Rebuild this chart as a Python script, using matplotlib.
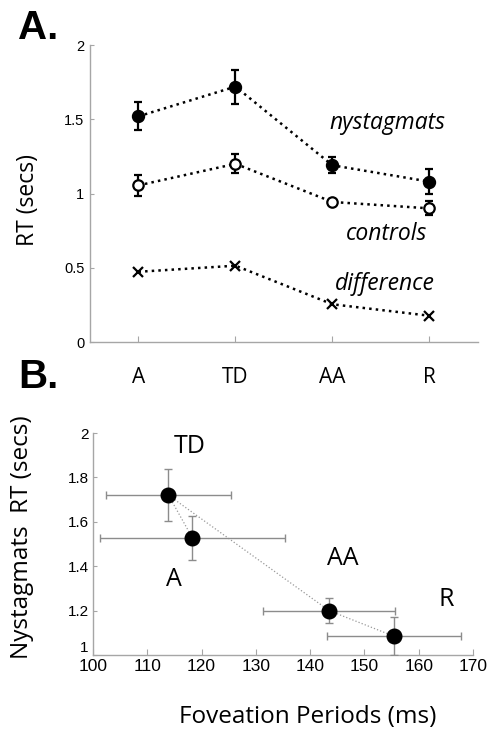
import matplotlib
matplotlib.use("Agg")
import matplotlib.pyplot as plt

# panel A: reaction time per condition
conds = ["A", "TD", "AA", "R"]
nyst_rt = [1.52, 1.72, 1.19, 1.08]
nyst_err = [0.095, 0.115, 0.055, 0.085]
ctrl_rt = [1.055, 1.20, 0.943, 0.90]
ctrl_err = [0.07, 0.065, 0.02, 0.048]
diff_rt = [0.473, 0.514, 0.254, 0.177]

# panel B: nystagmats RT vs foveation period
fov_ms = [118.3, 113.9, 143.5, 155.4]
fov_err = [17.0, 11.5, 12.1, 12.3]
b_rt = [1.528, 1.72, 1.20, 1.085]
b_rt_err = [0.098, 0.118, 0.055, 0.085]
b_lab_x = [114.9, 117.9, 146.0, 165.0]
b_lab_y = [1.34, 1.94, 1.435, 1.25]

spine_col = "#a6a6a6"
sans = ["Open Sans", "DejaVu Sans"]
arial = ["Liberation Sans", "DejaVu Sans"]

fig = plt.figure(figsize=(4.88, 7.30), dpi=100)

# ---- A ----
ax = fig.add_axes([0.1844, 0.5315, 0.795, 0.4068])
xs = list(range(len(conds)))
ax.errorbar(xs, nyst_rt, yerr=nyst_err, fmt="o", color="black", ms=8.6,
            ecolor="black", elinewidth=1.6, capsize=2.8, capthick=1.6, zorder=3)
ax.plot(xs, nyst_rt, ":", color="black", lw=1.8, zorder=2)
ax.errorbar(xs, ctrl_rt, yerr=ctrl_err, fmt="o", color="black", mfc="white",
            mec="black", mew=1.6, ms=7.5, ecolor="black", elinewidth=1.6,
            capsize=2.8, capthick=1.6, zorder=3)
ax.plot(xs, ctrl_rt, ":", color="black", lw=1.8, zorder=2)
ax.plot(xs, diff_rt, ":", color="black", lw=1.8, marker="x", ms=7, mew=1.6, zorder=3)

ax.text(2.57, 1.475, "nystagmats", fontsize=16.5, style="italic", family=sans,
        ha="center", va="center")
ax.text(2.56, 0.73, "controls", fontsize=16.5, style="italic", family=sans,
        ha="center", va="center")
ax.text(2.54, 0.39, "difference", fontsize=16.5, style="italic", family=sans,
        ha="center", va="center")

ax.set_xlim(-0.5, 3.5)
ax.set_ylim(0, 2)
ax.set_xticks(xs)
ax.set_xticklabels(conds, fontsize=15, family=sans)
ax.set_yticks([0, 0.5, 1, 1.5, 2])
ax.set_yticklabels(["0", "0.5", "1", "1.5", "2"], fontsize=10.5, family=arial)
ax.tick_params(axis="x", direction="in", length=4, color=spine_col, pad=18)
ax.tick_params(axis="y", direction="in", length=3, color=spine_col, pad=4)
for s in ["top", "right"]:
    ax.spines[s].set_visible(False)
for s in ["left", "bottom"]:
    ax.spines[s].set_color(spine_col)
    ax.spines[s].set_linewidth(1.0)

fig.text(0.057, 0.726, "RT (secs)", rotation=90, fontsize=16.5, family=sans,
         ha="center", va="center")
fig.text(0.037, 0.961, "A.", fontsize=29, weight="bold", family=arial,
         ha="left", va="center")

# ---- B ----
bx = fig.add_axes([0.1906, 0.1027, 0.7787, 0.3041])
bx.plot(fov_ms, b_rt, ":", color="#999999", lw=0.9, zorder=1)
bx.errorbar(fov_ms, b_rt, xerr=fov_err, yerr=b_rt_err, fmt="o", color="black",
            ms=10.5, ecolor="#8c8c8c", elinewidth=1.0, capsize=3, capthick=1.0,
            zorder=3)
for lab, lx, ly in zip(conds, b_lab_x, b_lab_y):
    bx.text(lx, ly, lab, fontsize=18, family=sans, ha="center", va="center")

bx.set_xlim(100, 170)
bx.set_ylim(1, 2)
bx.set_xticks(range(100, 171, 10))
bx.set_xticklabels([str(v) for v in range(100, 171, 10)], fontsize=12.5, family=arial)
bx.set_yticks([1, 1.2, 1.4, 1.6, 1.8, 2])
bx.set_yticklabels(["1", "1.2", "1.4", "1.6", "1.8", "2"], fontsize=11, family=arial)
bx.tick_params(axis="x", direction="in", length=4, color=spine_col, pad=3)
bx.tick_params(axis="y", direction="in", length=3, color=spine_col, pad=3)
for s in ["top", "right"]:
    bx.spines[s].set_visible(False)
for s in ["left", "bottom"]:
    bx.spines[s].set_color(spine_col)
    bx.spines[s].set_linewidth(1.0)
# the "1" label sits just above the x tick labels, as in the original
bx.get_yticklabels()[0].set_va("bottom")

fig.text(0.045, 0.264, "Nystagmats  RT (secs)", rotation=90, fontsize=17.5,
         family=sans, ha="center", va="center")
fig.text(0.631, 0.018, "Foveation Periods (ms)", fontsize=17.5, family=sans,
         ha="center", va="center")
fig.text(0.037, 0.483, "B.", fontsize=29, weight="bold", family=arial,
         ha="left", va="center")

fig.savefig("out.png", dpi=100)
